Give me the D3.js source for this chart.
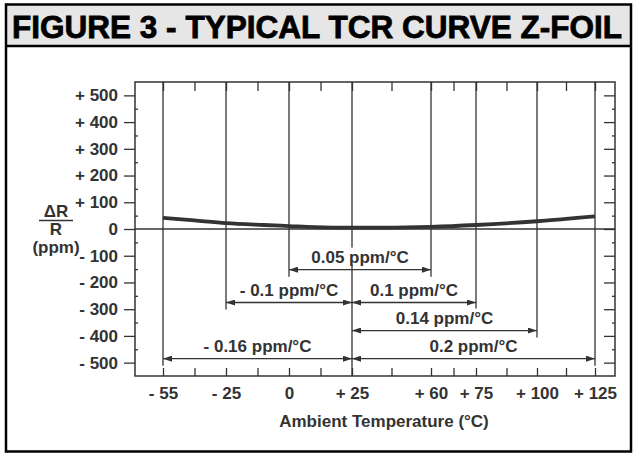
<!DOCTYPE html>
<html>
<head>
<meta charset="utf-8">
<script src="https://cdn.jsdelivr.net/npm/d3@7"></script>
<style>
  body { margin: 0; background: #fff; }
  text { font-family: "Liberation Sans", Arial, sans-serif; font-weight: bold; font-size: 17px; fill: #333; }
</style>
</head>
<body>
<div id="chart"></div>
<script>
// Chart data
var tempTicks = [-55, -25, 0, 25, 60, 75, 100, 125];
var ppmTicks = [500, 400, 300, 200, 100, 0, -100, -200, -300, -400, -500];
var curveTemp = [-55, -40, -25, -10, 0, 10, 25, 40, 60, 75, 100, 125];
var curvePpm = [42, 32, 22, 15, 11, 7, 5, 5, 8, 15, 29, 47];
// TCR spans (arrows)
var spanFrom = [0, -25, 25, 25, -55, 25];
var spanTo = [60, 25, 75, 100, 25, 125];
var spanPpm = [-152, -275, -275, -380, -485, -485];
var spanLabel = ["0.05 ppm/°C", "- 0.1 ppm/°C", "0.1 ppm/°C", "0.14 ppm/°C", "- 0.16 ppm/°C", "0.2 ppm/°C"];
var refTemp = 25;

var svgWidth = 637;
var svgHeight = 456;
var plot = { left: 135, top: 82, right: 615, bottom: 376 };
// the figure's temperature axis is not drawn to scale: where each tick sits
var tempTickPx = [163, 226, 289, 352, 431, 476, 537, 595];
var ink = "#333";

var svg = d3.select("#chart")
  .append("svg")
  .attr("width", svgWidth)
  .attr("height", svgHeight);

// title bar + outer frame
svg.append("rect")
  .attr("x", 6).attr("y", 4.5)
  .attr("width", 625).attr("height", 41.5)
  .attr("fill", "#e6e6e6");
svg.append("line")
  .attr("x1", 6).attr("x2", 631)
  .attr("y1", 46).attr("y2", 46)
  .attr("stroke", "#000").attr("stroke-width", 2.5);
svg.append("rect")
  .attr("x", 6).attr("y", 4.5)
  .attr("width", 625).attr("height", 447)
  .attr("fill", "none")
  .attr("stroke", "#000").attr("stroke-width", 2.5);
svg.append("text")
  .attr("x", 12).attr("y", 38)
  .attr("textLength", 610)
  .attr("lengthAdjust", "spacingAndGlyphs")
  .style("font-size", "32px")
  .style("font-weight", "900")
  .style("fill", "#000")
  .style("stroke", "#000")
  .style("stroke-width", "0.8px")
  .text("FIGURE 3 - TYPICAL TCR CURVE Z-FOIL");

// scales (x is piecewise linear, like the printed axis)
var x = d3.scaleLinear().domain(tempTicks).range(tempTickPx);
var y = d3.scaleLinear().domain([-550, 550]).range([plot.bottom, plot.top]);

function signed(v) {
  if (v > 0) return "+ " + v;
  if (v < 0) return "- " + (-v);
  return "0";
}

var xMinor = d3.pairs(tempTicks).map(p => (p[0] + p[1]) / 2);
var yMinor = d3.pairs(ppmTicks).map(p => (p[0] + p[1]) / 2);

function styleAxis(g) {
  g.select(".domain").remove();
  g.selectAll(".tick line").attr("stroke", ink).attr("stroke-width", 1.3);
  g.attr("font-size", null).attr("font-family", null);
}

// bottom axis with labels
svg.append("g")
  .attr("transform", `translate(0, ${plot.bottom})`)
  .call(d3.axisBottom(x).tickValues(tempTicks.concat(xMinor)).tickSize(-8).tickPadding(11)
    .tickFormat(d => tempTicks.includes(d) ? signed(d) : ""))
  .call(styleAxis);

// top axis ticks
svg.append("g")
  .attr("transform", `translate(0, ${plot.top})`)
  .call(d3.axisTop(x).tickValues(tempTicks.concat(xMinor)).tickSize(-9).tickFormat(""))
  .call(styleAxis);

// left axis
svg.append("g")
  .attr("transform", `translate(${plot.left}, 0)`)
  .call(d3.axisLeft(y).tickValues(ppmTicks).tickSize(11).tickPadding(6).tickFormat(signed))
  .call(styleAxis);
svg.append("g")
  .attr("transform", `translate(${plot.left}, 0)`)
  .call(d3.axisLeft(y).tickValues(yMinor).tickSize(-3).tickFormat(""))
  .call(styleAxis);

// right axis
svg.append("g")
  .attr("transform", `translate(${plot.right}, 0)`)
  .call(d3.axisRight(y).tickValues(ppmTicks).tickSize(-11).tickFormat(""))
  .call(styleAxis);
svg.append("g")
  .attr("transform", `translate(${plot.right}, 0)`)
  .call(d3.axisRight(y).tickValues(yMinor).tickSize(-3).tickFormat(""))
  .call(styleAxis);

// vertical reference lines, down to just below their lowest arrow
svg.append("g").selectAll("line")
  .data(tempTicks)
  .enter()
  .append("line")
  .attr("x1", d => x(d)).attr("x2", d => x(d))
  .attr("y1", plot.top)
  .attr("y2", d => {
    if (d === refTemp) return plot.bottom;
    var low = d3.min(spanPpm.filter((p, i) => spanFrom[i] === d || spanTo[i] === d));
    return y(low) + 7;
  })
  .attr("stroke", ink)
  .attr("stroke-width", 1.3);

// zero line
svg.append("line")
  .attr("x1", plot.left).attr("x2", plot.right)
  .attr("y1", y(0)).attr("y2", y(0))
  .attr("stroke", ink).attr("stroke-width", 1.3);

// frame
svg.append("rect")
  .attr("x", plot.left).attr("y", plot.top)
  .attr("width", plot.right - plot.left).attr("height", plot.bottom - plot.top)
  .attr("fill", "none")
  .attr("stroke", ink).attr("stroke-width", 1.5);

// TCR curve
var curveLine = d3.line()
  .x((d, i) => x(curveTemp[i]))
  .y(d => y(d))
  .curve(d3.curveMonotoneX);
svg.append("path")
  .attr("d", curveLine(curvePpm))
  .attr("fill", "none")
  .attr("stroke", ink)
  .attr("stroke-width", 3.8);

// arrow markers
svg.append("defs").append("marker")
  .attr("id", "arrow")
  .attr("viewBox", "0 0 9 6")
  .attr("refX", 9).attr("refY", 3)
  .attr("markerWidth", 9).attr("markerHeight", 6)
  .attr("markerUnits", "userSpaceOnUse")
  .attr("orient", "auto-start-reverse")
  .append("path")
  .attr("d", "M0,0 L9,3 L0,6 Z")
  .attr("fill", ink);

var spans = svg.append("g").selectAll("g")
  .data(spanLabel)
  .enter()
  .append("g");

spans.append("line")
  .attr("x1", (d, i) => x(spanFrom[i]))
  .attr("x2", (d, i) => x(spanTo[i]))
  .attr("y1", (d, i) => y(spanPpm[i]))
  .attr("y2", (d, i) => y(spanPpm[i]))
  .attr("stroke", ink)
  .attr("stroke-width", 1.3)
  .attr("marker-start", "url(#arrow)")
  .attr("marker-end", "url(#arrow)");

spans.append("text")
  .attr("x", (d, i) => (x(spanFrom[i]) + x(spanTo[i])) / 2)
  .attr("y", (d, i) => y(spanPpm[i]) - 7)
  .attr("text-anchor", "middle")
  .text(d => d);

// white box behind each label so it hides the lines it crosses
spans.each(function() {
  var g = d3.select(this);
  var b = g.select("text").node().getBBox();
  g.insert("rect", "text")
    .attr("x", b.x - 3).attr("y", b.y)
    .attr("width", b.width + 6).attr("height", b.height - 2)
    .attr("fill", "#fff");
});

// axis titles
var yTitle = svg.append("g").attr("transform", "translate(56, 0)");
yTitle.append("text").attr("y", 216.5).attr("text-anchor", "middle").text("ΔR");
yTitle.append("line")
  .attr("x1", -17).attr("x2", 17)
  .attr("y1", 220.5).attr("y2", 220.5)
  .attr("stroke", ink).attr("stroke-width", 1.5);
yTitle.append("text").attr("y", 234.5).attr("text-anchor", "middle").text("R");
yTitle.append("text").attr("y", 252.5).attr("text-anchor", "middle").text("(ppm)");

svg.append("text")
  .attr("x", 384).attr("y", 426.5)
  .attr("text-anchor", "middle")
  .text("Ambient Temperature (°C)");
</script>
</body>
</html>
